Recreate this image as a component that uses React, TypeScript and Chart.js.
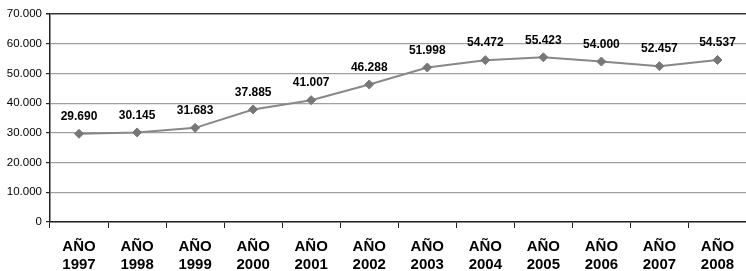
import React, { useEffect, useRef } from "react";
import { Chart, registerables } from "chart.js";

Chart.register(...registerables);

const categories: string[][] = [
  ["AÑO", "1997"], ["AÑO", "1998"], ["AÑO", "1999"], ["AÑO", "2000"],
  ["AÑO", "2001"], ["AÑO", "2002"], ["AÑO", "2003"], ["AÑO", "2004"],
  ["AÑO", "2005"], ["AÑO", "2006"], ["AÑO", "2007"], ["AÑO", "2008"],
];
const values: number[] = [29690, 30145, 31683, 37885, 41007, 46288, 51998, 54472, 55423, 54000, 52457, 54537];
const yTicks: number[] = [0, 10000, 20000, 30000, 40000, 50000, 60000, 70000];

const fmt = (v: number) => v.toLocaleString("de-DE");

const labelPlugin = {
  id: "pointLabels",
  afterDatasetsDraw(chart: any) {
    const ctx = chart.ctx;
    const meta = chart.getDatasetMeta(0);
    ctx.save();
    ctx.font = "bold 12px 'Liberation Sans', Arial, sans-serif";
    ctx.fillStyle = "#000";
    ctx.textAlign = "center";
    ctx.textBaseline = "middle";
    meta.data.forEach((pt: any, i: number) => {
      ctx.fillText(fmt(values[i]), pt.x, pt.y - 17);
    });
    ctx.restore();
  },
};

export default function App() {
  const ref = useRef<HTMLCanvasElement>(null);
  useEffect(() => {
    if (!ref.current) return;
    const chart = new Chart(ref.current, {
      type: "line",
      data: {
        labels: categories,
        datasets: [
          {
            data: values,
            borderColor: "#888888",
            borderWidth: 2,
            pointStyle: "rectRot",
            pointRadius: 4.5,
            pointBackgroundColor: "#777777",
            pointBorderColor: "#777777",
            pointBorderWidth: 1,
            tension: 0,
          },
        ],
      },
      options: {
        animation: false,
        responsive: false,
        maintainAspectRatio: false,
        layout: { padding: { top: 14, left: 0, right: 0, bottom: 0 } },
        plugins: { legend: { display: false }, tooltip: { enabled: false } },
        scales: {
          x: {
            offset: true,
            grid: {
              offset: true,
              drawOnChartArea: false,
              drawTicks: true,
              tickLength: 6,
              color: "#222",
            },
            border: { color: "#222", width: 1.5 },
            ticks: {
              color: "#000",
              padding: 10,
              maxRotation: 0,
              autoSkip: false,
              font: { family: "'Liberation Sans', Arial, sans-serif", size: 15, weight: "bold", lineHeight: 1.2 },
            },
            afterFit: (s: any) => { s.height = 49; },
          },
          y: {
            min: 0,
            max: 70000,
            afterBuildTicks: (s: any) => { s.ticks = yTicks.map((v) => ({ value: v })); },
            grid: {
              color: (c: any) => (c.tick && c.tick.value === 70000 ? "#333" : "#a0a0a0"),
              lineWidth: (c: any) => (c.tick && c.tick.value === 70000 ? 1.5 : 1.2),
              tickLength: 4,
              tickColor: "#222",
            },
            border: { color: "#222", width: 1.5 },
            ticks: {
              color: "#000",
              padding: 4,
              callback: (v: any) => fmt(Number(v)),
              font: { family: "'Liberation Sans', Arial, sans-serif", size: 11.5 },
            },
            afterFit: (s: any) => { s.width = 50; },
          },
        },
      },
      plugins: [labelPlugin],
    });
    return () => chart.destroy();
  }, []);
  return (
    <div style={{ position: "fixed", left: 0, top: 0, width: 746, height: 271, overflow: "hidden", background: "#fff" }}>
      <canvas ref={ref} width={752} height={271} style={{ width: 752, height: 271, display: "block" }} />
    </div>
  );
}
